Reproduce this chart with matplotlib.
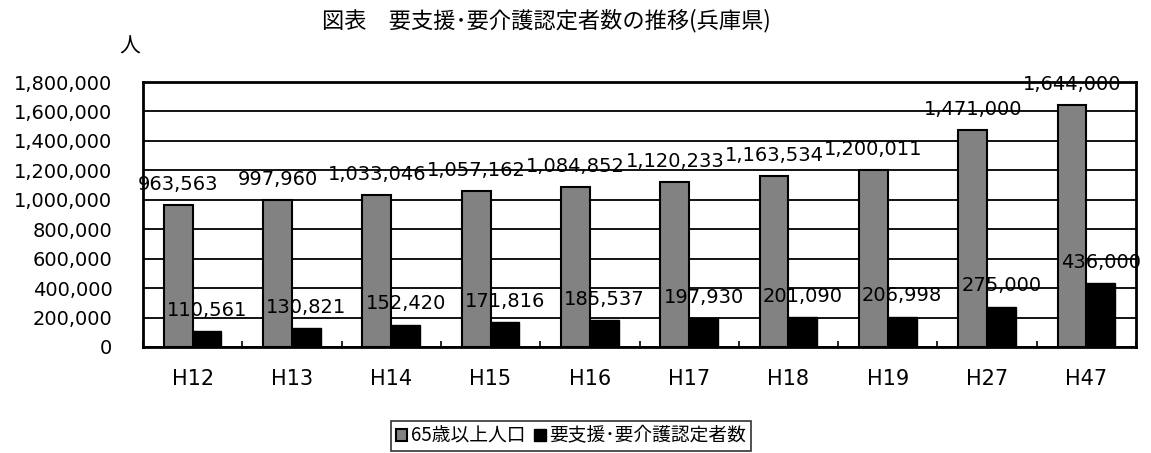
import numpy as np
import matplotlib
matplotlib.use('Agg')
import matplotlib.pyplot as plt
from matplotlib.ticker import FuncFormatter, MultipleLocator

# フォント設定（数字は DejaVu、日本語は Noto CJK）
plt.rcParams['font.family'] = ['DejaVu Sans', 'Noto Sans CJK JP']
plt.rcParams['axes.unicode_minus'] = False

# データ
years = ['H12', 'H13', 'H14', 'H15', 'H16', 'H17', 'H18', 'H19', 'H27', 'H47']
pop_65 = [963563, 997960, 1033046, 1057162, 1084852, 1120233, 1163534, 1200011, 1471000, 1644000]
certified = [110561, 130821, 152420, 171816, 185537, 197930, 201090, 206998, 275000, 436000]

fig = plt.figure(figsize=(11.51, 4.53), dpi=100)
ax = fig.add_axes([143 / 1151, 1 - 347 / 453, (1136 - 143) / 1151, (347 - 82) / 453])

x = np.arange(len(years))
w = 0.29

b1 = ax.bar(x - w / 2, pop_65, width=w, color='#828282', edgecolor='black',
            linewidth=1.5, label='65歳以上人口', zorder=3)
b2 = ax.bar(x + w / 2, certified, width=w, color='black', edgecolor='black',
            linewidth=1.0, label='要支援･要介護認定者数', zorder=3)

fmt = lambda v: f'{v:,.0f}'
ax.bar_label(b1, labels=[fmt(v) for v in pop_65], padding=8, fontsize=14, zorder=4)
ax.bar_label(b2, labels=[fmt(v) for v in certified], padding=8, fontsize=14, zorder=4)

# 軸
ax.set_xlim(-0.5, len(years) - 0.5)
ax.set_ylim(0, 1800000)
ax.yaxis.set_major_locator(MultipleLocator(200000))
ax.yaxis.set_major_formatter(FuncFormatter(lambda v, p: f'{v:,.0f}'))
ax.grid(axis='y', color='black', linewidth=1.3, zorder=0)
ax.set_axisbelow(True)

ax.set_xticks(x)
ax.set_xticklabels(years)
ax.set_xticks(np.arange(len(years) + 1) - 0.5, minor=True)
ax.tick_params(axis='x', which='major', length=0, pad=16, labelsize=15)
ax.tick_params(axis='x', which='minor', length=4, direction='in', width=1.2)
ax.tick_params(axis='y', length=0, pad=22, labelsize=14)

for s in ax.spines.values():
    s.set_linewidth(2.0)
    s.set_color('black')

# タイトル・単位
fig.text(0.475, 0.955, '図表　要支援･要介護認定者数の推移(兵庫県)', ha='center', va='center',
         fontsize=16, family=['Noto Sans CJK JP', 'DejaVu Sans'])
fig.text(130 / 1151, 1 - 47 / 453, '人', ha='center', va='center', fontsize=15,
         family=['Noto Sans CJK JP', 'DejaVu Sans'])

# 凡例
leg = fig.legend(loc='center', bbox_to_anchor=(0.496, 0.038), ncol=2,
                 prop={'family': ['Noto Sans CJK JP', 'DejaVu Sans'], 'size': 13.5},
                 frameon=True, fancybox=False, edgecolor='black', handlelength=0.6,
                 handleheight=0.6, handletextpad=0.2, columnspacing=0.5,
                 borderpad=0.25, borderaxespad=0)
leg.get_frame().set_linewidth(1.2)

fig.savefig('out.png', dpi=100, facecolor='white')
